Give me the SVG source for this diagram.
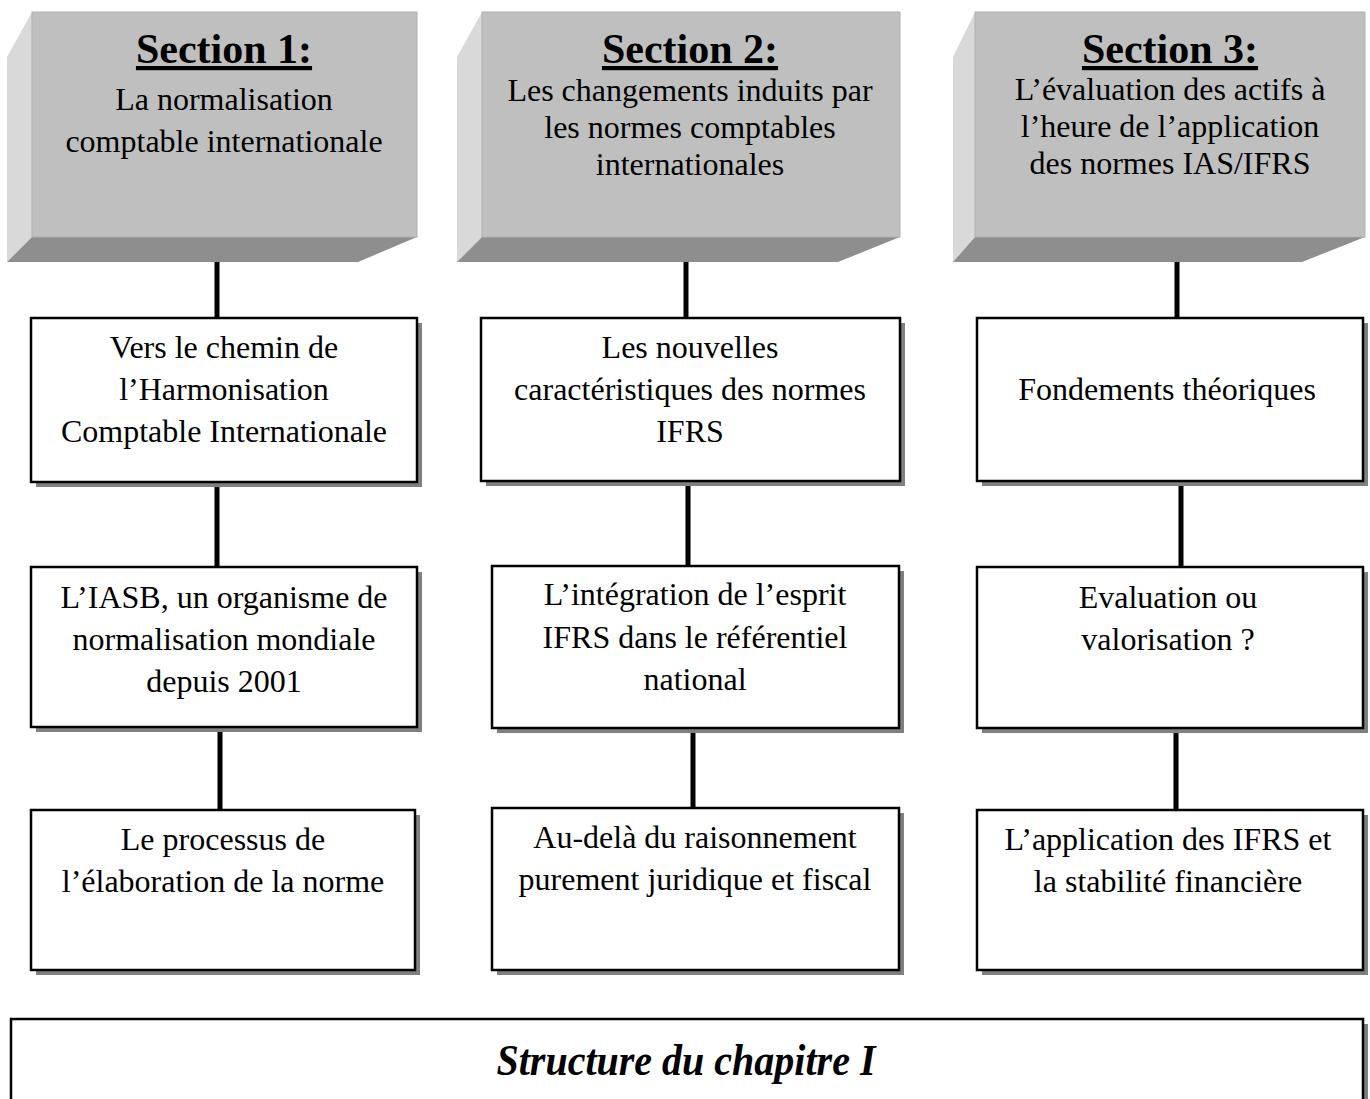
<svg xmlns="http://www.w3.org/2000/svg" width="1370" height="1099" viewBox="0 0 1370 1099">
<style>
.front{fill:#bfbfbf;stroke:#b0b0b0;stroke-width:1}
.side{fill:#d9d9d9}
.bot{fill:#8e8e8e}
.shadow{fill:#808080}
.box{fill:#ffffff;stroke:#000000;stroke-width:2.5}
.conn{stroke:#000000;stroke-width:5;fill:none}
text{font-family:"Liberation Serif","Times New Roman",serif;font-size:32px;fill:#000000;text-anchor:middle}
.title{font-size:42px;font-weight:bold;text-decoration:underline}
.chap{font-size:44px;font-weight:bold;font-style:italic}
</style>
<rect width="1370" height="1099" fill="#ffffff"/>

<g id="connectors">
<line class="conn" x1="217" y1="262" x2="217" y2="318"/>
<line class="conn" x1="217" y1="482" x2="217" y2="567"/>
<line class="conn" x1="220" y1="727" x2="220" y2="810"/>
<line class="conn" x1="686" y1="262" x2="686" y2="318"/>
<line class="conn" x1="688" y1="481" x2="688" y2="566"/>
<line class="conn" x1="693" y1="728" x2="693" y2="808"/>
<line class="conn" x1="1177" y1="262" x2="1177" y2="318"/>
<line class="conn" x1="1181" y1="481" x2="1181" y2="567"/>
<line class="conn" x1="1176" y1="728" x2="1176" y2="810"/>
</g>

<g id="section1">
<polygon class="side" points="7,57 32,12 32,237 7,262"/>
<polygon class="bot" points="7,262 32,237 417,237 358,262"/>
<rect class="front" x="32" y="12" width="385" height="225"/>
<text class="title" x="224" y="63">Section 1:</text>
<text x="224" y="110">La normalisation</text>
<text x="224" y="152">comptable internationale</text>
</g>

<g id="section2">
<polygon class="side" points="457,57 482,12 482,237 457,262"/>
<polygon class="bot" points="457,262 482,237 900,237 838,262"/>
<rect class="front" x="482" y="12" width="418" height="225"/>
<text class="title" x="690" y="63">Section 2:</text>
<text x="690" y="101">Les changements induits par</text>
<text x="690" y="138">les normes comptables</text>
<text x="690" y="175">internationales</text>
</g>

<g id="section3">
<polygon class="side" points="953,57 975,12 975,237 953,262"/>
<polygon class="bot" points="953,262 975,237 1365,237 1302,262"/>
<rect class="front" x="975" y="12" width="390" height="225"/>
<text class="title" x="1170" y="63">Section 3:</text>
<text x="1170" y="100">L’évaluation des actifs à</text>
<text x="1170" y="137">l’heure de l’application</text>
<text x="1170" y="174">des normes IAS/IFRS</text>
</g>

<g id="s1-box1">
<rect class="shadow" x="36" y="323" width="386" height="164"/>
<rect class="box" x="31" y="318" width="386" height="164"/>
<text x="224" y="358">Vers le chemin de</text>
<text x="224" y="400">l’Harmonisation</text>
<text x="224" y="442">Comptable Internationale</text>
</g>
<g id="s1-box2">
<rect class="shadow" x="36" y="572" width="386" height="160"/>
<rect class="box" x="31" y="567" width="386" height="160"/>
<text x="224" y="608">L’IASB, un organisme de</text>
<text x="224" y="650">normalisation mondiale</text>
<text x="224" y="692">depuis 2001</text>
</g>
<g id="s1-box3">
<rect class="shadow" x="36" y="815" width="384" height="160"/>
<rect class="box" x="31" y="810" width="384" height="160"/>
<text x="223" y="850">Le processus de</text>
<text x="223" y="892">l’élaboration de la norme</text>
</g>

<g id="s2-box1">
<rect class="shadow" x="486" y="323" width="419" height="163"/>
<rect class="box" x="481" y="318" width="419" height="163"/>
<text x="690" y="358">Les nouvelles</text>
<text x="690" y="400">caractéristiques des normes</text>
<text x="690" y="442">IFRS</text>
</g>
<g id="s2-box2">
<rect class="shadow" x="497" y="571" width="407" height="162"/>
<rect class="box" x="492" y="566" width="407" height="162"/>
<text x="695" y="605">L’intégration de l’esprit</text>
<text x="695" y="648">IFRS dans le référentiel</text>
<text x="695" y="690">national</text>
</g>
<g id="s2-box3">
<rect class="shadow" x="497" y="813" width="407" height="162"/>
<rect class="box" x="492" y="808" width="407" height="162"/>
<text x="695" y="848">Au-delà du raisonnement</text>
<text x="695" y="890">purement juridique et fiscal</text>
</g>

<g id="s3-box1">
<rect class="shadow" x="982" y="323" width="386" height="163"/>
<rect class="box" x="977" y="318" width="386" height="163"/>
<text x="1167" y="400">Fondements théoriques</text>
</g>
<g id="s3-box2">
<rect class="shadow" x="982" y="572" width="386" height="161"/>
<rect class="box" x="977" y="567" width="386" height="161"/>
<text x="1168" y="608">Evaluation ou</text>
<text x="1168" y="650">valorisation ?</text>
</g>
<g id="s3-box3">
<rect class="shadow" x="982" y="815" width="386" height="160"/>
<rect class="box" x="977" y="810" width="386" height="160"/>
<text x="1168" y="850">L’application des IFRS et</text>
<text x="1168" y="892">la stabilité financière</text>
</g>

<g id="chapter">
<rect class="shadow" x="16" y="1024" width="1352" height="90"/>
<rect class="box" x="11" y="1019" width="1352" height="90"/>
<text class="chap" x="686" y="1075" textLength="379" lengthAdjust="spacingAndGlyphs">Structure du chapitre I</text>
</g>
</svg>
